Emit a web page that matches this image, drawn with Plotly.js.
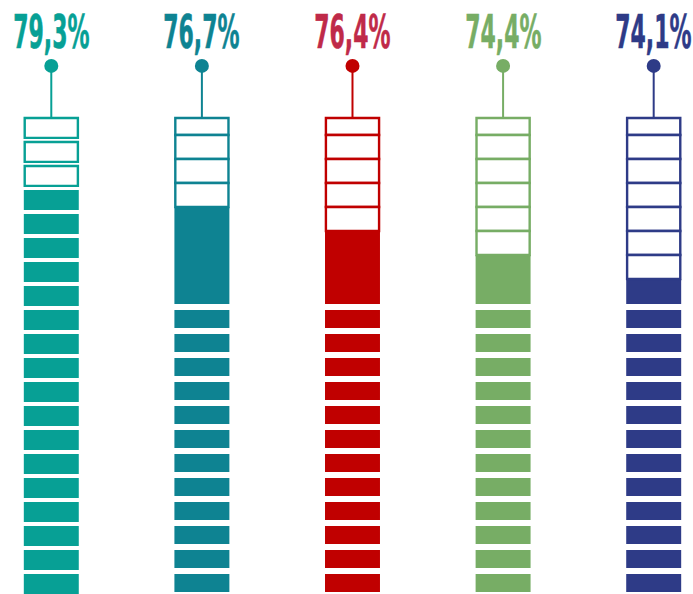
<!DOCTYPE html>
<html>
<head>
<meta charset="utf-8">
<script src="https://cdn.plot.ly/plotly-3.0.1.min.js"></script>
<style>html,body{margin:0;padding:0;background:#fff;}#chart{width:693px;height:594px;}</style>
</head>
<body>
<div id="chart"></div>
<script>
// ---- data ----
const labels = ['79,3%', '76,7%', '76,4%', '74,4%', '74,1%'];
const values = [79.3, 76.7, 76.4, 74.4, 74.1];
const emptySegments = [3, 4, 5, 6, 7];        // outlined (unfilled) segments at the top of each column
const totalSegments = 20;                      // visible segments per column
const barColors = ['#07A095', '#0E8392', '#C00000', '#77AD65', '#2E3B87'];
const labelColors = ['#07A095', '#0E8392', '#BF2A49', '#77AD65', '#2E3B87'];
const separatedStyle = [true, false, false, false, false];

// ---- styling / layout constants ----
const BAR_W = 0.365;
const SEG_LEN = 0.83;       // length of a separated segment (in segment units)
const TOP_BOX = 0.71;       // length of top box in joined style
const BLOCK_END = 7.75;     // where the solid block ends in joined style
const FIRST_SPLIT = 8;      // first separated filled segment in joined style
const SPLIT_LEN = 0.75;
const PIN_Y = -2.17;
const LABEL_Y = -3.6;
const LABEL_SQUEEZE = 0.52; // condensed display face

const traces = [];
const annotations = [];

labels.forEach((lab, i) => {
  const col = barColors[i];
  const E = emptySegments[i];
  const oBase = [], oLen = [], fBase = [], fLen = [];
  if (separatedStyle[i]) {
    for (let k = 0; k < totalSegments; k++) {
      if (k < E) { oBase.push(k); oLen.push(SEG_LEN); }
      else { fBase.push(k); fLen.push(SEG_LEN); }
    }
  } else {
    oBase.push(0); oLen.push(TOP_BOX);
    for (let j = 1; j < E; j++) { oBase.push(TOP_BOX + j - 1); oLen.push(1); }
    const blockStart = TOP_BOX + E - 1;
    fBase.push(blockStart); fLen.push(BLOCK_END - blockStart);
    for (let k = FIRST_SPLIT; k < totalSegments; k++) { fBase.push(k); fLen.push(SPLIT_LEN); }
  }
  traces.push({
    type: 'bar', x: fBase.map(() => i), y: fLen, base: fBase, width: BAR_W,
    marker: {color: col, line: {width: 0}}, hoverinfo: 'skip'
  });
  traces.push({
    type: 'bar', x: oBase.map(() => i), y: oLen, base: oBase, width: BAR_W - 0.012,
    marker: {color: '#ffffff', line: {color: col, width: 2.4}}, hoverinfo: 'skip'
  });
  traces.push({
    type: 'scatter', mode: 'lines+markers', x: [i, i], y: [PIN_Y, 0],
    line: {color: col, width: 2},
    marker: {color: col, size: [14, 0], opacity: 1, line: {width: 0}}, hoverinfo: 'skip'
  });
  annotations.push({
    x: i, y: LABEL_Y, xref: 'x', yref: 'y', text: lab, showarrow: false,
    xanchor: 'center', yanchor: 'middle',
    font: {family: '"DejaVu Sans Condensed", "Liberation Sans Narrow", sans-serif',
           size: 47, color: labelColors[i], weight: 'bold'}
  });
});

const layout = {
  width: 693, height: 594,
  margin: {l: 0, r: 0, t: 0, b: 0, pad: 0},
  paper_bgcolor: '#ffffff', plot_bgcolor: '#ffffff',
  showlegend: false, barmode: 'overlay',
  xaxis: {range: [-0.3406, 4.261], visible: false, fixedrange: true},
  yaxis: {range: [19.833, -4.9167], visible: false, fixedrange: true},
  annotations: annotations
};

Plotly.newPlot('chart', traces, layout, {displayModeBar: false, staticPlot: true}).then(gd => {
  gd.querySelectorAll('.annotation-text').forEach((t, idx) => {
    t.style.transformBox = 'fill-box';
    t.style.transformOrigin = 'center';
    t.style.transform = 'scaleX(' + LABEL_SQUEEZE + ')';
    t.style.stroke = labelColors[idx];
    t.style.strokeWidth = '0.6px';
  });
});
</script>
</body>
</html>
